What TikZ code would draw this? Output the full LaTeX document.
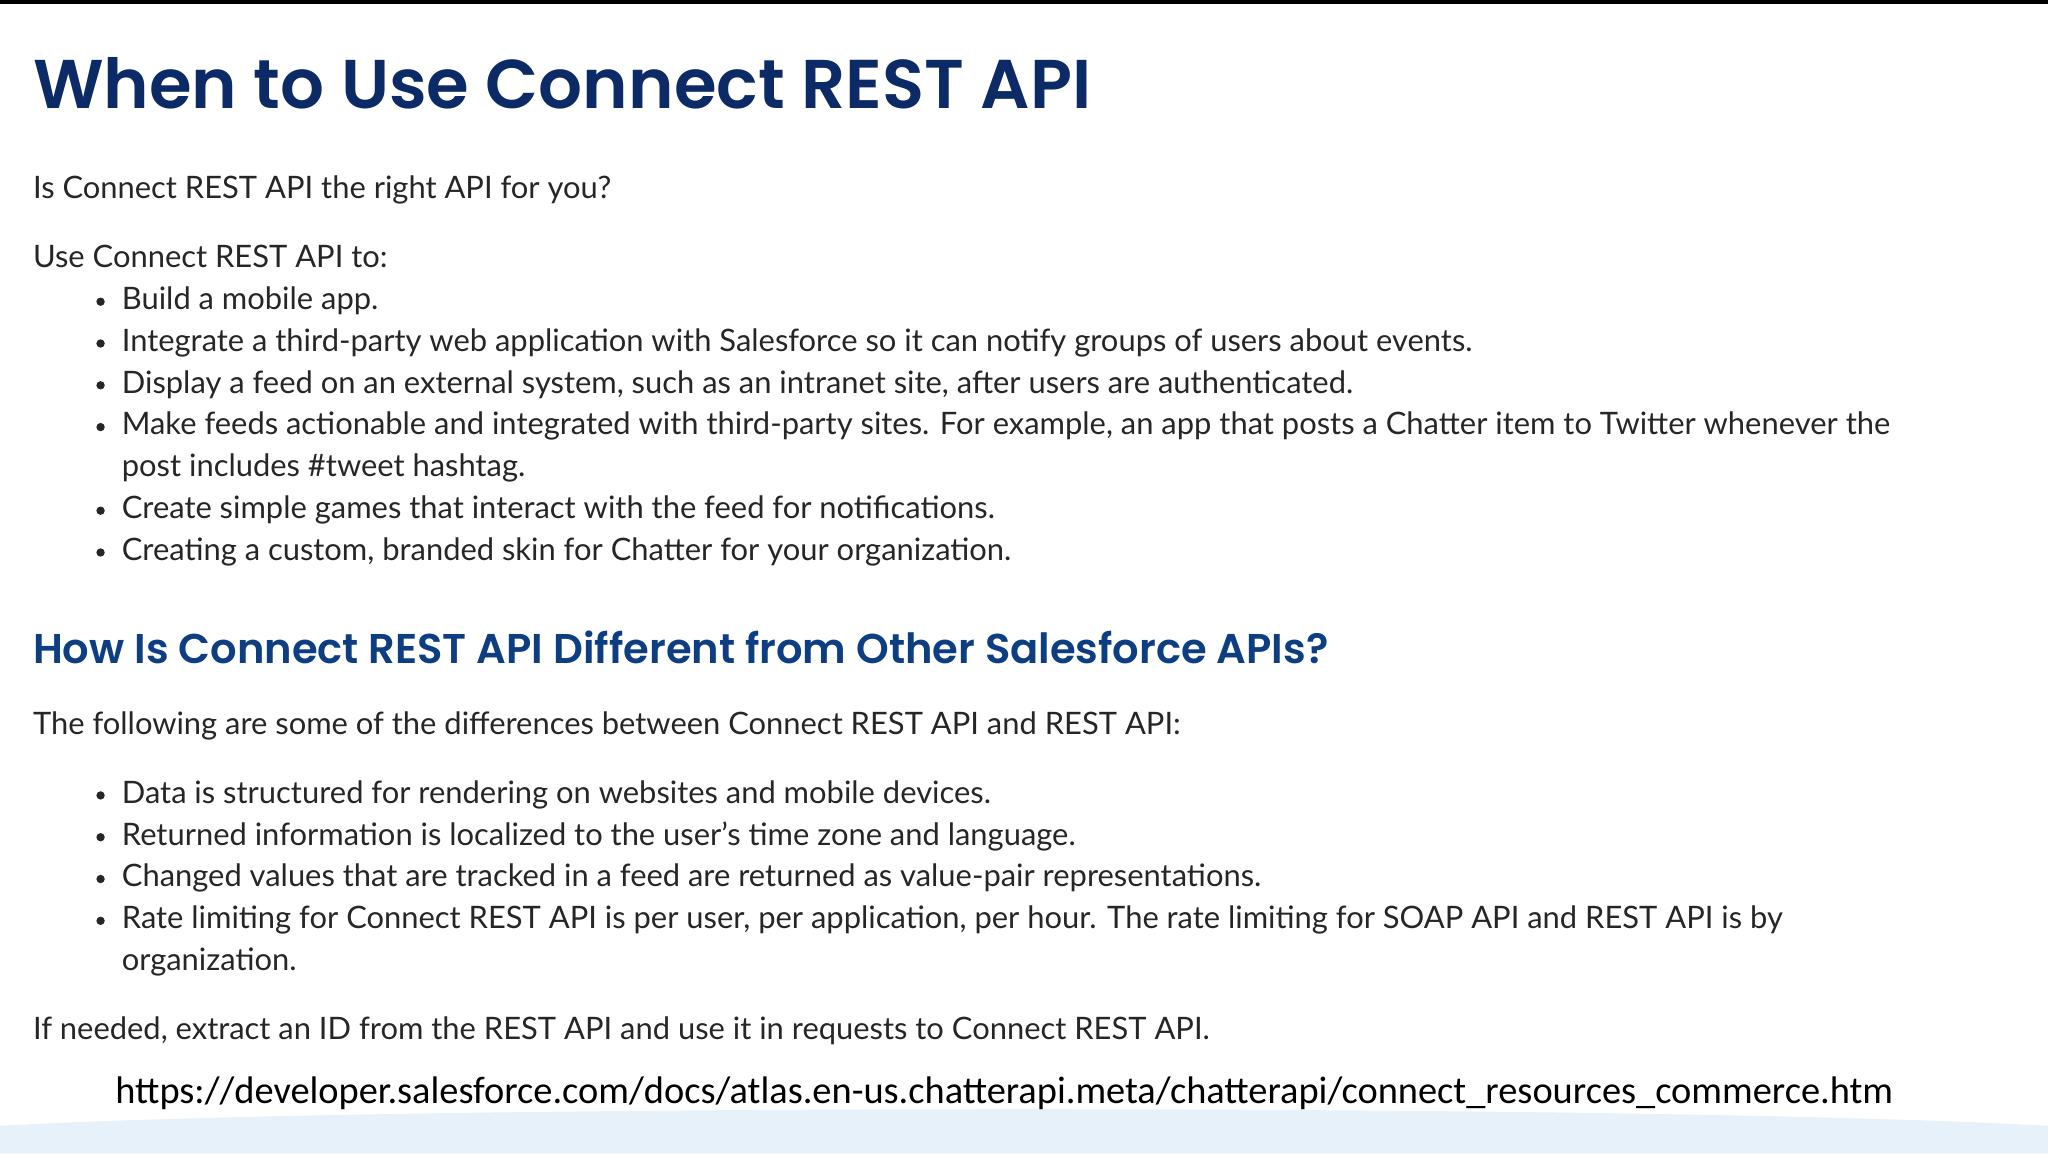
\documentclass[tikz,border=0pt]{standalone}
\usepackage{fontspec}
\setmainfont{Lato}
\newfontfamily\titlefont{Poppins}[UprightFont=* SemiBold]
\newfontfamily\urlfont{Carlito}
\definecolor{navy}{HTML}{0B2A66}
\definecolor{headblue}{HTML}{0D3E82}
\definecolor{bottomblue}{HTML}{E6F1FA}
\begin{document}
\begin{tikzpicture}[x=0.653pt,y=-0.653pt,
  body/.style={anchor=base west,inner sep=0pt,font=\fontsize{15.45}{18}\selectfont,text=black!85},
  bul/.style={anchor=base west,inner sep=0pt,font=\fontsize{15.45}{18}\selectfont,text=black!85}]
\useasboundingbox (0,0) rectangle (1568,883);
\fill[white] (0,0) rectangle (1568,883);
\fill[black] (0,0) rectangle (1568,3);
\fill[bottomblue] (0,883) -- (0,862) .. controls (300,845) and (1268,845) .. (1568,862) -- (1568,883) -- cycle;
\node[anchor=base west,inner sep=0pt,font=\titlefont\fontsize{34.5}{40}\selectfont,text=navy] (title) at (25,83) {When to Use Connect REST API};
\node[body] (q) at (25,152) {Is Connect REST API the right API for you?};
\node[body] (use) at (25,205) {Use Connect REST API to:};
\foreach \y/\t [count=\i] in {237/{Build a mobile app.},
 269/{Integrate a third-party web application with Salesforce so it can notify groups of users about events.},
 301/{Display a feed on an external system, such as an intranet site, after users are authenticated.},
 333/{Make feeds actionable and integrated with third-party sites. For example, an app that posts a Chatter item to Twitter whenever the},
 397/{Create simple games that interact with the feed for notifications.},
 429/{Creating a custom, branded skin for Chatter for your organization.}}{
  \node[bul] (a\i) at (93,\y) {\t};
  \fill[black!85] (77,\y-6) circle (3.2);
}
\node[bul] (a4b) at (93,365) {post includes \#tweet hashtag.};
\node[anchor=base west,inner sep=0pt,font=\titlefont\fontsize{20.8}{26}\selectfont,text=headblue] (head) at (25,508) {How Is Connect REST API Different from Other Salesforce APIs?};
\node[body] (f) at (25,562) {The following are some of the differences between Connect REST API and REST API:};
\foreach \y/\t [count=\i] in {615/{Data is structured for rendering on websites and mobile devices.},
 647/{Returned information is localized to the user's time zone and language.},
 679/{Changed values that are tracked in a feed are returned as value-pair representations.},
 711/{Rate limiting for Connect REST API is per user, per application, per hour. The rate limiting for SOAP API and REST API is by}}{
  \node[bul] (b\i) at (93,\y) {\t};
  \fill[black!85] (77,\y-6) circle (3.2);
}
\node[bul] (b4b) at (93,743) {organization.};
\node[body] (ifn) at (25,796) {If needed, extract an ID from the REST API and use it in requests to Connect REST API.};
\node[anchor=base west,inner sep=0pt,font=\urlfont\fontsize{19.2}{22}\selectfont,text=black] (url) at (88,845) {https://developer.salesforce.com/docs/atlas.en-us.chatterapi.meta/chatterapi/connect\_resources\_commerce.htm};
\end{tikzpicture}
\end{document}
